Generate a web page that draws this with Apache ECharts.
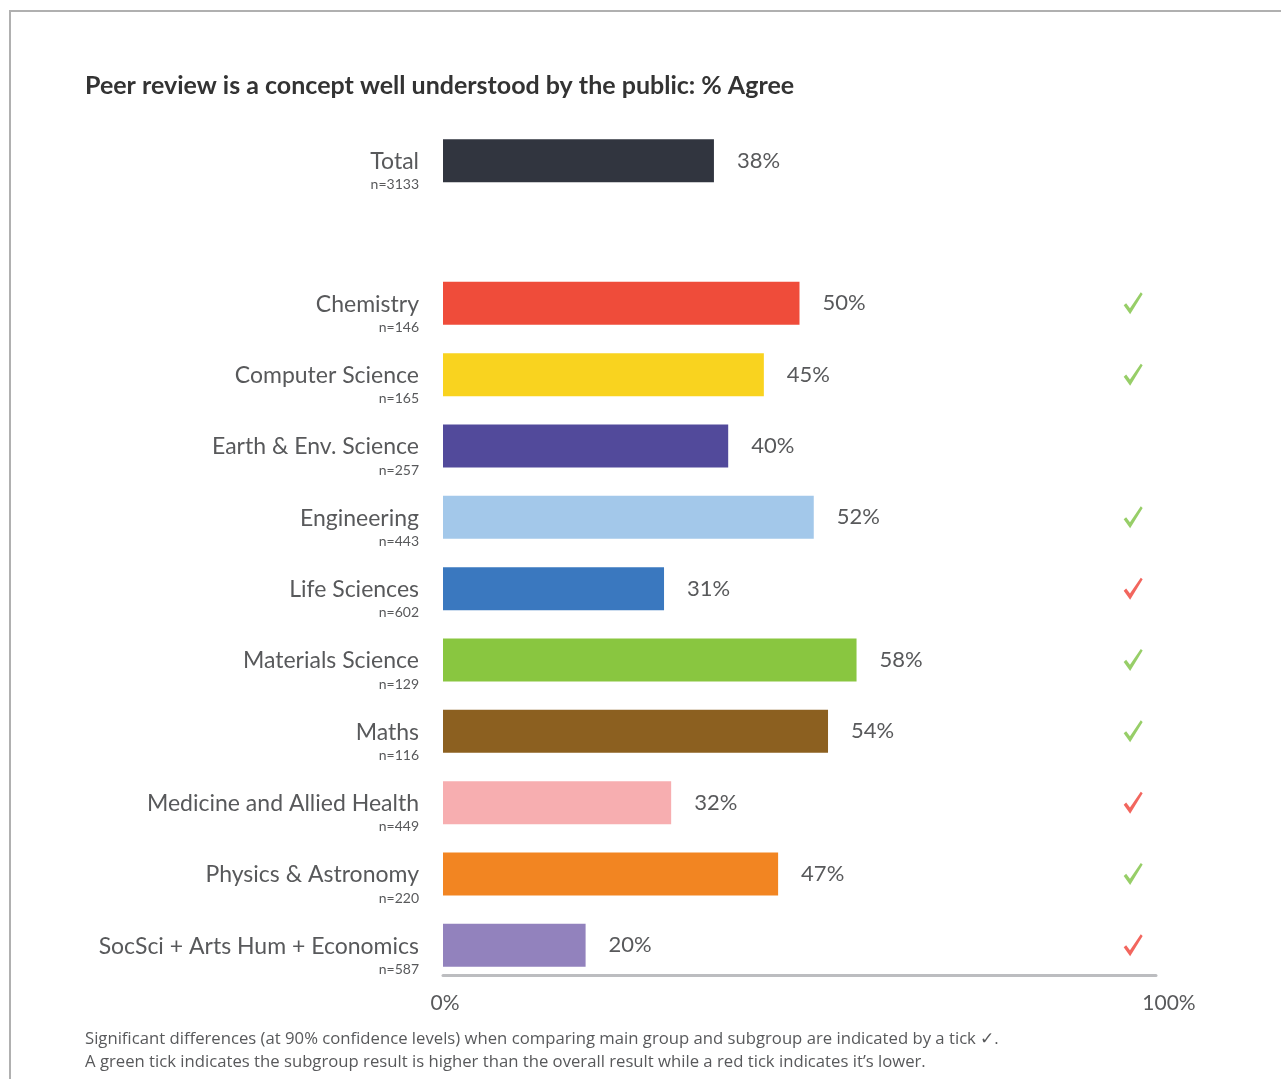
<!DOCTYPE html>
<html>
<head>
<meta charset="utf-8">
<script src="https://cdn.jsdelivr.net/npm/echarts@6/dist/echarts.min.js"></script>
<style>
  html, body { margin: 0; padding: 0; background: #fff; }
  #chart { width: 1281px; height: 1079px; }
</style>
</head>
<body>
<div id="chart"></div>
<script>
// Survey groups (an empty slot separates the overall total from the subjects)
const categories = ['Total', '', 'Chemistry', 'Computer Science', 'Earth & Env. Science', 'Engineering',
  'Life Sciences', 'Materials Science', 'Maths', 'Medicine and Allied Health',
  'Physics & Astronomy', 'SocSci + Arts Hum + Economics'];
const sampleSizes = [3133, null, 146, 165, 257, 443, 602, 129, 116, 449, 220, 587];
const agreePct = [38, null, 50, 45, 40, 52, 31, 58, 54, 32, 47, 20];
// Significance versus total: 'up' = higher, 'down' = lower, '' = not significant
const significance = ['', '', 'up', 'up', '', 'up', 'down', 'up', 'up', 'down', 'up', 'down'];
const axisTicks = [0, 100];

const barColors = ['#31353f', '#ffffff', '#ef4c3a', '#f9d31f', '#524a9b', '#a3c8ea',
  '#3a78bf', '#89c640', '#8c6020', '#f7aeb0', '#f28522', '#9282bd'];
const tickColors = { up: '#7dc242', down: '#ef4036' };
const TEXT = '#58595b';
const FONT = 'Lato, "Open Sans", sans-serif';
const TICK_COLUMN = 96.8;
// Check-mark glyph drawn as a filled path
const CHECK_PATH = 'path://M0,13 L2.6,10.8 L6.6,15.8 L18,0 L20,1.6 L6.8,22 Z';

const chart = echarts.init(document.getElementById('chart'), null, { renderer: 'canvas' });

const barData = agreePct.map((v, i) => ({ value: v, itemStyle: { color: barColors[i] } }));
const tickData = [];
significance.forEach((s, i) => {
  if (s) tickData.push({ value: [TICK_COLUMN, i], itemStyle: { color: tickColors[s] } });
});

chart.setOption({
  animation: false,
  backgroundColor: '#fff',
  title: {
    text: 'Peer review is a concept well understood by the public: % Agree',
    left: 85, top: 73, padding: 0,
    textStyle: { fontFamily: FONT, fontSize: 25, fontWeight: 'bold', color: '#333' }
  },
  graphic: [
    {
      type: 'rect', shape: { x: 10, y: 11, width: 1300, height: 1100 },
      style: { fill: 'none', stroke: '#b0b0b0', lineWidth: 2 }, silent: true, z: -1
    },
    {
      type: 'text', left: 85, top: 1028,
      style: {
        text: 'Significant differences (at 90% confidence levels) when comparing main group and subgroup are indicated by a tick \u2713.\nA green tick indicates the subgroup result is higher than the overall result while a red tick indicates it\u2019s lower.',
        font: '16.7px "Open Sans", sans-serif', fill: TEXT, lineHeight: 23
      }
    }
  ],
  grid: { left: 443, right: 125, top: 125, bottom: 98, containLabel: false },
  xAxis: {
    type: 'value', min: axisTicks[0], max: axisTicks[1], interval: 100,
    offset: -6,
    splitLine: { show: false },
    axisTick: { show: false },
    axisLine: { show: true, lineStyle: { color: '#bcbdc0', width: 3 } },
    axisLabel: {
      margin: 18,
      formatter: v => axisTicks.includes(v) ? (v === 100 ? '{r|' + v + '%}' : '{l|' + v + '%}') : '',
      rich: {
        l: { fontFamily: FONT, fontSize: 21, color: TEXT, padding: [0, 0, 0, 4] },
        r: { fontFamily: FONT, fontSize: 21, color: TEXT, padding: [0, 0, 0, 26] }
      }
    }
  },
  yAxis: {
    type: 'category', data: categories, inverse: true,
    axisLine: { show: false }, axisTick: { show: false }, splitLine: { show: false },
    axisLabel: {
      margin: 24,
      padding: [22, 0, 0, 0],
      formatter: (v, i) => v ? '{name|' + v + '}\n{n|n=' + sampleSizes[i] + '}' : '',
      rich: {
        name: { fontFamily: FONT, fontSize: 23, color: TEXT, lineHeight: 26, align: 'right' },
        n: { fontFamily: FONT, fontSize: 14, color: TEXT, lineHeight: 20, align: 'right' }
      }
    }
  },
  series: [
    {
      type: 'bar', data: barData, barWidth: 43,
      label: {
        show: true, position: 'right', distance: 23,
        formatter: p => p.value == null ? '' : p.value + '%',
        fontFamily: FONT, fontSize: 22, color: TEXT
      }
    },
    {
      type: 'scatter', data: tickData,
      symbol: CHECK_PATH, symbolSize: [19, 22], symbolKeepAspect: false
    }
  ]
});
</script>
</body>
</html>
